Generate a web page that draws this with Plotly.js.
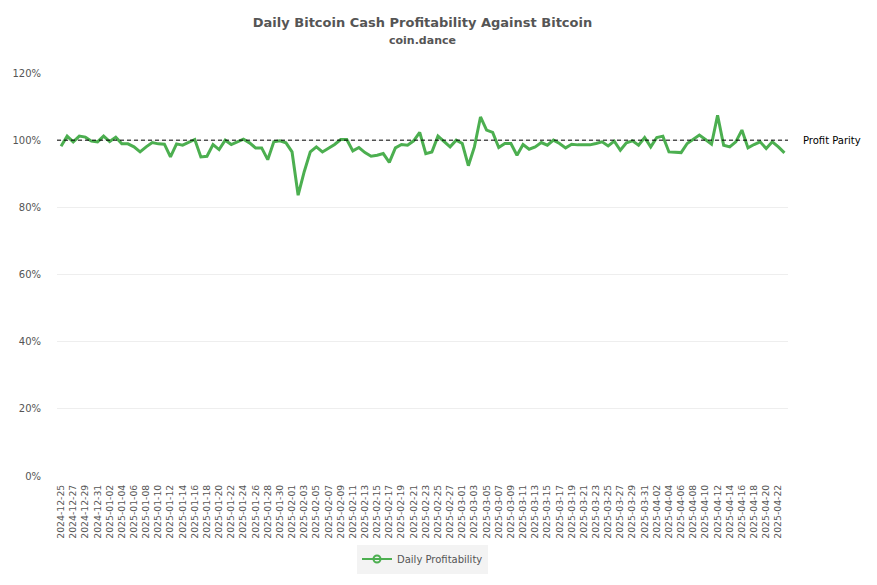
<!DOCTYPE html>
<html>
<head>
<meta charset="utf-8">
<script src="https://cdn.plot.ly/plotly-3.0.1.min.js"></script>
<style>html,body{margin:0;padding:0;background:#fff;}#chart{width:877px;height:585px;}</style>
</head>
<body>
<div id="chart"></div>
<script>
// Daily profitability (% of Bitcoin), one value per day from 2024-12-25
const startDate = '2024-12-25';
const profitability = [
  98.2, 101.2, 99.5, 101.2, 100.9, 99.7, 99.5, 101.2, 99.6, 100.9,
  98.9, 98.9, 98.0, 96.5, 98.0, 99.3, 98.9, 98.8, 95.0, 98.9,
  98.5, 99.3, 100.2, 95.0, 95.2, 98.7, 97.2, 100.0, 98.7, 99.5,
  100.3, 99.2, 97.7, 97.7, 94.2, 99.5, 99.8, 99.2, 96.5, 83.6,
  90.6, 96.5, 98.0, 96.5, 97.7, 98.7, 100.2, 100.2, 96.8, 97.8,
  96.3, 95.2, 95.5, 96.0, 93.4, 97.7, 98.7, 98.5, 99.8, 102.3,
  96.0, 96.5, 101.2, 99.5, 98.0, 100.0, 99.0, 92.4, 98.0, 106.9,
  103.0, 102.3, 97.8, 99.0, 99.0, 95.5, 98.7, 97.3, 98.0, 99.3,
  98.5, 100.0, 99.0, 97.7, 98.8, 98.6, 98.5, 98.6, 99.0, 99.5,
  98.3, 99.7, 97.0, 99.2, 99.8, 98.5, 100.8, 98.0, 100.8, 101.2,
  96.5, 96.5, 96.3, 99.0, 100.3, 101.5, 100.2, 98.8, 107.4, 98.5,
  98.0, 99.5, 103.0, 97.7, 98.7, 99.5, 97.5, 99.5, 98.0, 96.2
];
const parityLevel = 100;
const seriesName = 'Daily Profitability';
const parityLabel = 'Profit Parity';
const titleText = 'Daily Bitcoin Cash Profitability Against Bitcoin';
const subtitleText = 'coin.dance';

function dateStr(i) {
  const d = new Date(startDate + 'T00:00:00Z');
  d.setUTCDate(d.getUTCDate() + i);
  return d.toISOString().slice(0, 10);
}
const dates = profitability.map((_, i) => dateStr(i));
const yvals = profitability.map(v => v / 100);

const font = 'DejaVu Sans, sans-serif';
const trace = {
  x: dates, y: yvals, name: seriesName, type: 'scatter', mode: 'lines',
  line: {color: '#4caf50', width: 3},
  showlegend: false
};
const legendTrace = {
  x: [null], y: [null], name: seriesName, type: 'scatter', mode: 'lines+markers',
  line: {color: '#4caf50', width: 2},
  marker: {symbol: 'circle-open', color: '#4caf50', size: 7, line: {width: 2}},
  showlegend: true
};

const layout = {
  width: 877, height: 585,
  margin: {l: 57, r: 89, t: 73, b: 109},
  paper_bgcolor: '#fff', plot_bgcolor: '#fff',
  font: {family: font, color: '#555', size: 10},
  title: {
    text: '<b>' + titleText + '</b><br><span style="font-size:11px"><b>' + subtitleText + '</b></span>',
    xref: 'paper', x: 0.5, xanchor: 'center', y: 0.953, yanchor: 'top',
    font: {family: font, size: 13, color: '#555'}
  },
  xaxis: {
    type: 'date', automargin: false,
    range: ['2024-12-24 08:00', '2025-04-23 14:00'],
    tick0: startDate, dtick: 2 * 86400000,
    tickformat: '%Y-%m-%d', tickangle: -90,
    showgrid: false, zeroline: false, showline: false,
    ticks: 'outside', ticklen: 4, tickcolor: 'rgba(0,0,0,0)',
    tickfont: {family: font, size: 9.3, color: '#555'}
  },
  yaxis: {
    range: [0, 1.2], tickvals: [0, 0.2, 0.4, 0.6, 0.8, 1.0, 1.2],
    tickformat: '.0%', showgrid: true, gridcolor: '#eee', zeroline: false,
    showline: false, ticks: 'outside', ticklen: 13, tickcolor: 'rgba(0,0,0,0)',
    automargin: false,
    tickfont: {family: font, size: 10, color: '#555'}
  },
  shapes: [{
    type: 'line', xref: 'paper', yref: 'y', x0: 0, x1: 1,
    y0: parityLevel / 100, y1: parityLevel / 100,
    line: {color: '#000', width: 1, dash: '4px,3px'}
  }],
  annotations: [{
    xref: 'paper', yref: 'y', x: 1, y: parityLevel / 100,
    xanchor: 'left', yanchor: 'middle', xshift: 13, showarrow: false,
    text: parityLabel, font: {family: font, size: 10, color: '#000'}
  }],
  showlegend: true,
  legend: {
    orientation: 'h', x: 0.5, xanchor: 'center', y: -0.17, yanchor: 'top',
    bgcolor: '#f3f3f3', borderwidth: 0, itemwidth: 30,
    font: {family: font, size: 10, color: '#555'}
  },
  hovermode: 'closest'
};
Plotly.newPlot('chart', [trace, legendTrace], layout, {displayModeBar: false, staticPlot: true});
</script>
</body>
</html>
